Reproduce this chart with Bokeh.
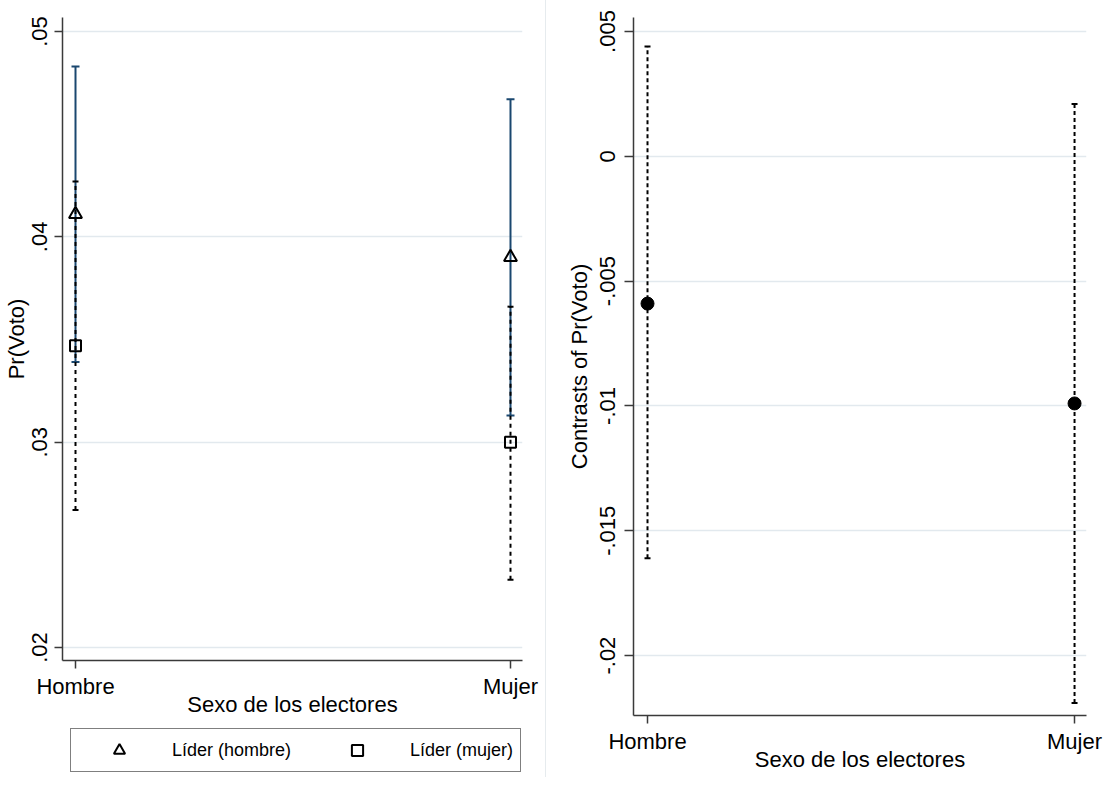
from bokeh.plotting import figure
from bokeh.models import (FixedTicker, Range1d, Whisker, TeeHead, ColumnDataSource,
                          Legend, LegendItem)
from bokeh.layouts import row, column
from bokeh.embed import file_html
from bokeh.resources import INLINE

# ---------------- data ----------------
sexo_x = [0, 1]
sexo_labels = ["Hombre", "Mujer"]

# Left panel: Pr(Voto) by voter sex, for male / female leader
lider_h_pr = [0.0411, 0.0390]
lider_h_lo = [0.0339, 0.0313]
lider_h_hi = [0.0483, 0.0467]

lider_m_pr = [0.0347, 0.0300]
lider_m_lo = [0.0267, 0.0233]
lider_m_hi = [0.0427, 0.0366]

# Right panel: contrasts of Pr(Voto)
contr_pr = [-0.0059, -0.0099]
contr_lo = [-0.0161, -0.0219]
contr_hi = [0.0044, 0.0021]

left_ticks = [0.02, 0.03, 0.04, 0.05]
left_tick_labels = [".02", ".03", ".04", ".05"]
right_ticks = [-0.02, -0.015, -0.01, -0.005, 0, 0.005]
right_tick_labels = ["-.02", "-.015", "-.01", "-.005", "0", ".005"]

legend_labels = ["Líder (hombre)", "Líder (mujer)"]

FONT = "Liberation Sans"
AXIS_COL = "#3a3a3a"
GRID_COL = "#e2e9ee"
NAVY = "#1a476f"


def style(p, yticks, ylabels):
    p.outline_line_color = None
    p.xgrid.visible = False
    p.ygrid.ticker = FixedTicker(ticks=yticks)
    p.ygrid.grid_line_color = GRID_COL
    p.ygrid.grid_line_width = 1.5
    p.xaxis.ticker = FixedTicker(ticks=sexo_x)
    p.xaxis.major_label_overrides = dict(zip(sexo_x, sexo_labels))
    p.yaxis.ticker = FixedTicker(ticks=yticks)
    p.yaxis.major_label_overrides = dict(zip(yticks, ylabels))
    p.yaxis.major_label_orientation = "vertical"
    for ax in (p.xaxis[0], p.yaxis[0]):
        ax.axis_line_color = AXIS_COL
        ax.axis_line_width = 1.5
        ax.major_tick_line_color = AXIS_COL
        ax.major_tick_line_width = 1.5
        ax.major_tick_out = 8
        ax.major_tick_in = 0
        ax.minor_tick_out = 0
        ax.minor_tick_in = 0
        ax.major_label_text_font = FONT
        ax.major_label_text_font_size = "22px"
        ax.major_label_text_color = "black"
        ax.axis_label_text_font = FONT
        ax.axis_label_text_font_size = "22px"
        ax.axis_label_text_font_style = "normal"
        ax.axis_label_text_color = "black"
    p.xaxis.major_label_standoff = 5
    p.xaxis.axis_label_standoff = -10


# ---------------- left panel ----------------
p1 = figure(frame_width=460, frame_height=643, output_backend="svg",
            toolbar_location=None,
            x_range=Range1d(-0.0299, 1.0276), y_range=Range1d(0.01937, 0.05068),
            min_border_left=62, min_border_right=24, min_border_top=17,
            min_border_bottom=62, x_axis_label="Sexo de los electores",
            y_axis_label="Pr(Voto)")
style(p1, left_ticks, left_tick_labels)
p1.yaxis.major_label_standoff = 7
p1.yaxis.axis_label_standoff = 1

src_h = ColumnDataSource(dict(x=sexo_x, pr=lider_h_pr, lo=lider_h_lo, hi=lider_h_hi))
src_m = ColumnDataSource(dict(x=sexo_x, pr=lider_m_pr, lo=lider_m_lo, hi=lider_m_hi))

w_h = Whisker(source=src_h, base="x", upper="hi", lower="lo",
              line_color=NAVY, line_width=2,
              upper_head=TeeHead(size=8, line_color=NAVY, line_width=2),
              lower_head=TeeHead(size=8, line_color=NAVY, line_width=2))
p1.add_layout(w_h)
w_m = Whisker(source=src_m, base="x", upper="hi", lower="lo",
              line_color="black", line_width=2, line_dash="4 4",
              upper_head=TeeHead(size=6, line_color="black", line_width=2),
              lower_head=TeeHead(size=6, line_color="black", line_width=2))
p1.add_layout(w_m)

TRI = dict(marker="triangle", size=13, fill_alpha=0, line_color="black", line_width=2)
SQ = dict(marker="square", size=11, fill_alpha=0, line_color="black", line_width=2)
p1.scatter(x="x", y="pr", source=src_h, **TRI)
p1.scatter(x="x", y="pr", source=src_m, **SQ)

# ---------------- legend strip under the left panel ----------------
# (same series, plotted outside the visible range: only their legend keys show)
pleg = figure(width=546, height=70, output_backend="svg", toolbar_location=None,
              x_range=Range1d(0, 1), y_range=Range1d(10, 11),
              min_border=0, outline_line_color=None)
pleg.axis.visible = False
pleg.grid.visible = False
lr_h = pleg.scatter(x="x", y="pr", source=src_h, **TRI)
lr_m = pleg.scatter(x="x", y="pr", source=src_m, **SQ)
legend = Legend(items=[LegendItem(label=legend_labels[0], renderers=[lr_h]),
                       LegendItem(label=legend_labels[1], renderers=[lr_m])],
                orientation="horizontal", location=(8, 20),
                border_line_color="black", border_line_width=1.5,
                padding=7, glyph_width=82, glyph_height=28,
                label_standoff=12, spacing=25, margin=0,
                label_text_font=FONT, label_text_font_size="18px",
                label_text_color="black")
pleg.add_layout(legend)

# ---------------- right panel ----------------
p2 = figure(frame_width=453, frame_height=698, output_backend="svg",
            toolbar_location=None,
            x_range=Range1d(-0.0328, 1.028), y_range=Range1d(-0.0224, 0.00556),
            min_border_left=87, min_border_right=17, min_border_top=17,
            min_border_bottom=62, x_axis_label="Sexo de los electores",
            y_axis_label="Contrasts of Pr(Voto)")
style(p2, right_ticks, right_tick_labels)
p2.yaxis.major_tick_out = 9
p2.yaxis.major_label_standoff = 9
p2.yaxis.axis_label_standoff = 6
p2.styles = {"box-shadow": "-1px 0 0 #e6ebee"}

src_c = ColumnDataSource(dict(x=sexo_x, pr=contr_pr, lo=contr_lo, hi=contr_hi))
w_c = Whisker(source=src_c, base="x", upper="hi", lower="lo",
              line_color="black", line_width=2, line_dash="4 3",
              upper_head=TeeHead(size=6, line_color="black", line_width=2),
              lower_head=TeeHead(size=6, line_color="black", line_width=2))
p2.add_layout(w_c)
p2.scatter(x="x", y="pr", source=src_c, marker="circle", size=13,
           color="black")

layout = row(column(p1, pleg), p2)
open("out.html", "w").write(file_html(layout, INLINE))
